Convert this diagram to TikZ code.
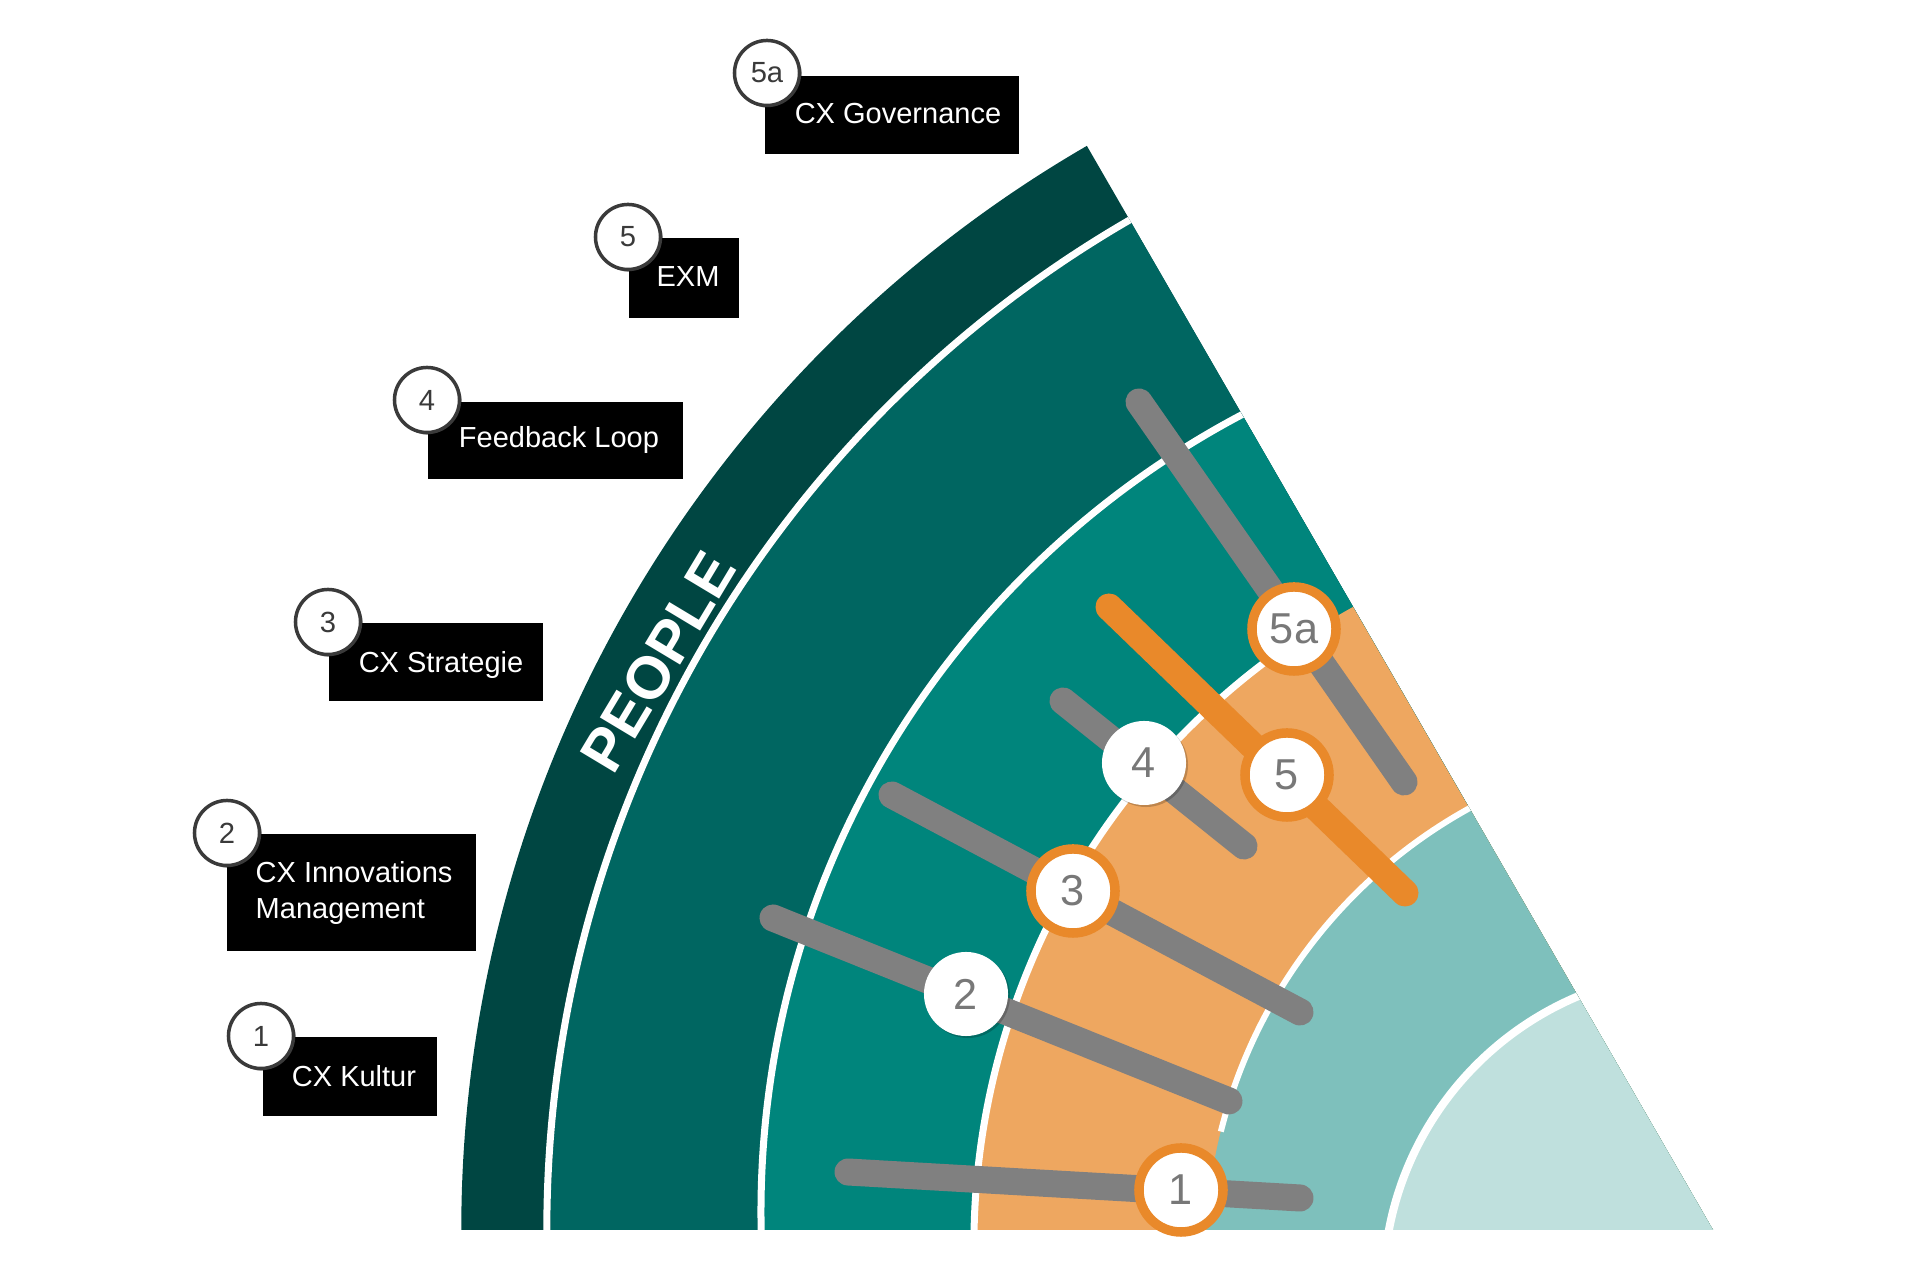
\documentclass[tikz,border=0pt]{standalone}
\usepackage{fontspec}
\setmainfont{Liberation Sans}
\usetikzlibrary{shadows,calc}
\definecolor{cDarkest}{HTML}{004642}
\definecolor{cDark}{HTML}{006661}
\definecolor{cTeal}{HTML}{00857C}
\definecolor{cOrFill}{HTML}{EEA760}
\definecolor{cLight}{HTML}{7EC0BC}
\definecolor{cLightest}{HTML}{BFE0DD}
\definecolor{cBar}{HTML}{808080}
\definecolor{cOrange}{HTML}{E9892A}
\definecolor{cNum}{HTML}{787878}
\definecolor{cLbl}{HTML}{3A3A3A}
\begin{document}
\begin{tikzpicture}[x=0.01cm,y=0.01cm,
  wl/.style={draw=white,line width=0.07cm},
  graybar/.style={draw=cBar,line width=0.27cm,line cap=round},
  orangebar/.style={draw=cOrange,line width=0.27cm,line cap=round},
  ocirc/.style={circle,fill=white,draw=cOrange,line width=0.095cm,minimum size=0.84cm,inner sep=0pt,text=cNum,font=\fontsize{12.3pt}{14pt}\selectfont},
  wcirc/.style={circle,fill=white,minimum size=0.84cm,inner sep=0pt,text=cNum,font=\fontsize{12.3pt}{14pt}\selectfont,
    drop shadow={shadow xshift=0.02cm,shadow yshift=-0.02cm,fill=black,opacity=0.2}},
  lcirc/.style={circle,fill=white,draw=cLbl,line width=0.035cm,minimum size=0.65cm,inner sep=0pt,text=cLbl,font=\fontsize{8.3pt}{9pt}\selectfont,
    drop shadow={shadow xshift=0.025cm,shadow yshift=-0.025cm,fill=black,opacity=0.35}},
  lbox/.style={fill=black,inner sep=0pt,anchor=north west},
  ltext/.style={text=white,inner sep=0pt,font=\fontsize{8.25pt}{10.2pt}\selectfont}]
\useasboundingbox (0,0) rectangle (1920,-1280);

% ---------- wedge rings ----------
\begin{scope}
  \clip (1713,-1230) -- (1013,-18) -- (0,-18) -- (0,-1230) -- cycle;
  \fill[cDarkest] (1713,-1230) circle[radius=12.51cm];
  \fill[cDark] (1713,-1230) circle[radius=11.62cm];
  \draw[wl] (1713,-1230) circle[radius=11.655cm];
  \fill[cTeal] (1662,-1212) circle[radius=9.0cm];
  \draw[wl] (1662,-1212) circle[radius=9.005cm];
  \fill[cOrFill] (1705,-1246) circle[radius=7.29cm];
  \draw[wl] (1705,-1246) ++(126:7.307cm) arc[start angle=126,end angle=182,radius=7.307cm];
  \fill[cLight] (1716,-1255) circle[radius=5.1cm];
  \draw[wl,line width=0.06cm] (1716,-1255) ++(110:5.1cm) arc[start angle=110,end angle=166,radius=5.1cm];
  \fill[cLightest] (1701.5,-1289.6) circle[radius=3.15cm];
  \draw[wl,line width=0.08cm] (1701.5,-1289.6) circle[radius=3.18cm];
\end{scope}

\node[rotate=59,text=white,inner sep=0pt,font=\bfseries\fontsize{17pt}{18pt}\selectfont] (people) at (658,-662) {PEOPLE};

% ---------- bars ----------
\coordinate (b1a) at (848,-1172);  \coordinate (b1b) at (1300,-1198);
\coordinate (b2a) at (773,-918);   \coordinate (b2b) at (1229,-1101);
\coordinate (b3a) at (892,-795);   \coordinate (b3b) at (1300,-1012);
\coordinate (b4a) at (1063,-701);  \coordinate (b4b) at (1244,-846);
\coordinate (b5aa) at (1139,-402); \coordinate (b5ab) at (1404,-782);
\coordinate (b5a) at (1109,-607);  \coordinate (b5b) at (1405,-893);
\draw[graybar] (b1a) -- (b1b);
\draw[graybar] (b2a) -- (b2b);
\draw[graybar] (b3a) -- (b3b);
\draw[graybar] (b4a) -- (b4b);
\draw[graybar] (b5aa) -- (b5ab);
\draw[orangebar] (b5a) -- (b5b);

% ---------- chart markers ----------
\node[ocirc] (m1) at (1181,-1190) {1};
\node[wcirc] (m2) at (966,-994) {2};
\node[ocirc] (m3) at (1073,-891) {3};
\node[wcirc] (m4) at (1144,-763) {4};
\node[ocirc] (m5) at (1287,-775) {5};
\node[ocirc] (m5a) at (1294,-629) {5a};

% ---------- labels ----------
\node[lbox,minimum width=1.74cm,minimum height=0.79cm] (box1) at (262,-1036) {};
\node[ltext,anchor=base] (t1) at (354,-1087) {CX Kultur};
\node[lcirc] (c1) at (261,-1036) {1};

\node[lbox,minimum width=2.49cm,minimum height=1.17cm] (box2) at (226,-833) {};
\node[ltext,anchor=base west] (t2a) at (255,-883) {CX Innovations};
\node[ltext,anchor=base west] (t2b) at (255,-919) {Management};
\node[lcirc] (c2) at (227,-833) {2};

\node[lbox,minimum width=2.14cm,minimum height=0.78cm] (box3) at (328,-622) {};
\node[ltext,anchor=base] (t3) at (441,-673) {CX Strategie};
\node[lcirc] (c3) at (328,-622) {3};

\node[lbox,minimum width=2.55cm,minimum height=0.77cm] (box4) at (427,-401) {};
\node[ltext,anchor=base] (t4) at (559,-448) {Feedback Loop};
\node[lcirc] (c4) at (427,-400) {4};

\node[lbox,minimum width=1.10cm,minimum height=0.80cm] (box5) at (628,-237) {};
\node[ltext,anchor=base] (t5) at (688,-287) {EXM};
\node[lcirc] (c5) at (628,-237) {5};

\node[lbox,minimum width=2.54cm,minimum height=0.78cm] (box5a) at (764,-75) {};
\node[ltext,anchor=base] (t5a) at (898,-124) {CX Governance};
\node[lcirc] (c5a) at (767,-73) {5a};
\end{tikzpicture}
\end{document}
